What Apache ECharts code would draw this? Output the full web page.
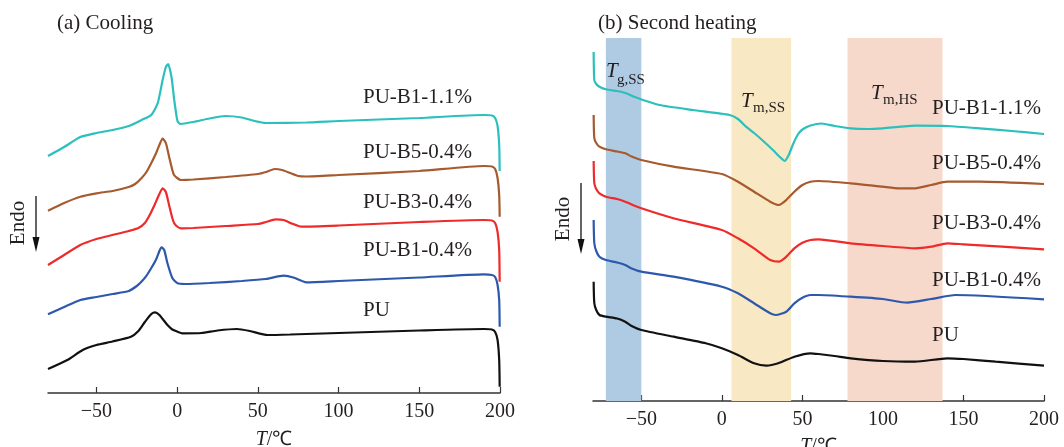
<!DOCTYPE html>
<html>
<head>
<meta charset="utf-8">
<script src="https://cdn.jsdelivr.net/npm/echarts@6/dist/echarts.min.js"></script>
<style>
  html, body { margin: 0; padding: 0; background: #fff; }
  #chart { width: 1064px; height: 447px; }
</style>
</head>
<body>
<div id="chart"></div>
<script>
// temperature ticks shown on both axes
var tempTicks = [-50, 0, 50, 100, 150, 200];
var sampleNames = ["PU-B1-1.1%", "PU-B5-0.4%", "PU-B3-0.4%", "PU-B1-0.4%", "PU"];

// (a) cooling curves: temperature / offset heat flow (arb. units)
var coolT_b11 = [-80,-70,-60,-50,-40,-30,-22,-16,-12,-9,-7,-5.6,-3.5,-1.8,0.2,2,10,20,30,40,48,55,80,100,150,190,195,197,198.5,199.5,199.8];
var coolV_b11 = [237,246,256,260,263,267,273,278,290,313,326,329,316,293,272,269,271,274.5,277,275.5,272,270,270.5,272,275,278,277.5,275,267,248,222];
var coolT_b5 = [-80,-70,-60,-50,-40,-30,-26,-22,-19,-16,-13,-11,-9,-7,-5,-3,-1.9,0,2.3,10,30,50,55,60.5,65,70,75,80,100,150,190,195,197,198.5,199.5,199.8];
var coolV_b5 = [182.3,190,196.3,199.7,202,206,209,215,221,230,240,248,254.5,250,236.3,223,218,215,213,213.5,216,219,221,224,223,220,217,216.5,218,222,227,226.5,224,215,198,176.3];
var coolT_b3 = [-80,-70,-60,-50,-40,-30,-24,-20,-17,-14,-11,-9,-7,-5,-3,-1.9,0,2.3,10,30,50,55,61,66,71,77,100,150,190,195,197,198.5,199.5,199.8];
var coolV_b3 = [128,138,148,154,158,162,165,170,178,188,199,204.7,201,188,175,170,166.5,164.7,165,167,169,171,173.7,173,169.5,166.3,167.5,171,173,172.5,170,161,143,111.3];
var coolT_b1 = [-80,-70,-60,-50,-40,-30,-25,-22,-19.4,-16,-13.2,-11,-9.7,-8,-6,-2.9,0.2,5,20,40,55,66,72,80,100,150,190,195,197,198.5,199.5,199.8];
var coolV_b1 = [78.7,86,93,96,99,102,107,111.5,116.3,125,133,142,145.7,143,129.7,114.7,109.7,109,110,112,114,117.3,115.5,110.7,112,115.5,118.7,118,116,108,93,66.3];
var coolT_pu = [-80,-68,-58.5,-50,-40,-28.6,-24,-20,-16,-13.6,-11,-8,-6,-3,0.2,3.2,15,25,37,45,56,70,100,150,190,195,197,198.5,199.5,199.8];
var coolV_pu = [24,33,43,48,51.5,56.3,62,71,79,80.7,78,72,68,63.5,61.3,59.7,60,62.5,64,62,58,58.5,60,62.5,64,63.5,61,53,33,6.3];

// (b) second heating curves
var heatT_b11 = [-79.6,-79.2,-78,-76,-72,-65,-59.5,-54,-49,-38.7,-18,4.8,10,15,20,25,31.7,36,39,41.5,44,47,50,55,62,70,80,90,100,120,140,160,180,200];
var heatV_b11 = [349,321,317,314.3,311.7,310,307.7,304,301,296,291,286,282,274.3,268,261,251,244,240,246,256,266,271.5,275.5,277.5,275,272.7,272,272.7,275.3,275,272.7,270,267];
var heatT_b5 = [-79.6,-79.2,-78,-76,-72,-65,-60,-56,-50,-30,0,10,20,30,35.5,40,45,50,55,60,80,100,110,120,130,140,160,200];
var heatV_b5 = [286,263,258,254.3,251.7,249.5,247.7,244.5,241,234.3,227,219.3,209.3,199.3,196,201,209.3,216,219.3,220,217.7,214.3,212.7,212.7,216,219.3,219.3,217];
var heatT_b3 = [-79.6,-79.2,-78,-76,-72,-65,-60,-56,-50,-30,0,10,20,30,35.5,40,45,50,55,60,80,100,120,130,140,150,200];
var heatV_b3 = [240,218,212,207.7,204.3,202,199.3,196.5,192.7,182.7,171,162.7,152.7,141,139.3,144.3,152.7,158.3,161,161.7,157.7,155,152.7,154.3,157.7,156.7,151.7];
var heatT_b1 = [-79.6,-79.2,-78,-76,-72,-65,-60,-56,-50,-30,0,10,20,30,33.5,40,45,50,55,60,80,100,115,130,145,200];
var heatV_b1 = [181,158,150,144.3,141,138.5,136,132.5,129.3,124.3,114.3,107.7,97.7,87.7,86,89.3,97.7,103.3,106,106,104.3,102,98.3,102,106,101.7];
var heatT_pu = [-79.6,-79.2,-78,-76,-72,-65,-60,-56,-50,-30,-10,0,10,20,27.6,35,45,55,60,70,80,100,120,140,150,170,200];
var heatV_pu = [119.3,98,91,86,84.3,82.5,79.3,75,71,64.3,57.7,52.7,46,37.7,35.3,37.7,44.3,47.7,47,45,42.7,40,39.3,42.7,42,39.3,35.3];

// transition regions shaded in (b)
var bandTg = [-72, -50];
var bandTmSS = [6, 43];
var bandTmHS = [78, 137];

var colors = ["#2cc0bd", "#a65a2e", "#ef2a2a", "#2d58ac", "#111111"];
var serif = "Liberation Serif";
var txt = "#231f20";

function pairs(t, v) {
  return t.map(function (x, i) { return [x, v[i]]; });
}

function makeX(gridIndex, nameGap) {
  return {
    type: "value", gridIndex: gridIndex, min: -80, max: 200,
    name: "{i|T}/℃", nameLocation: "middle", nameGap: nameGap,
    nameTextStyle: { fontFamily: serif, fontSize: 20, color: txt,
      rich: { i: { fontFamily: serif, fontSize: 20, fontStyle: "italic", color: txt } } },
    axisLine: { lineStyle: { color: "#333", width: 1.5 } },
    axisTick: { inside: true, length: 6, customValues: tempTicks, lineStyle: { color: "#333", width: 1.2 } },
    axisLabel: { customValues: tempTicks, margin: 9, fontFamily: serif, fontSize: 20, color: txt,
      formatter: function (v) { return String(v).replace("-", "\u2212"); } },
    splitLine: { show: false }
  };
}

function makeY(gridIndex, max) {
  return { type: "value", gridIndex: gridIndex, min: 0, max: max, show: false, splitLine: { show: false } };
}

var coolSets = [[coolT_b11, coolV_b11], [coolT_b5, coolV_b5], [coolT_b3, coolV_b3], [coolT_b1, coolV_b1], [coolT_pu, coolV_pu]];
var heatSets = [[heatT_b11, heatV_b11], [heatT_b5, heatV_b5], [heatT_b3, heatV_b3], [heatT_b1, heatV_b1], [heatT_pu, heatV_pu]];

var series = [];
coolSets.forEach(function (s, i) {
  series.push({
    name: sampleNames[i], type: "line", xAxisIndex: 0, yAxisIndex: 0,
    data: pairs(s[0], s[1]), showSymbol: false, smooth: 0.2, z: 3,
    lineStyle: { color: colors[i], width: 2.2 }
  });
});
heatSets.forEach(function (s, i) {
  var item = {
    name: sampleNames[i], type: "line", xAxisIndex: 1, yAxisIndex: 1,
    data: pairs(s[0], s[1]), showSymbol: false, smooth: 0.2, z: 3,
    lineStyle: { color: colors[i], width: 2.2 }
  };
  if (i === 0) {
    item.markArea = {
      silent: true,
      data: [
        [{ xAxis: bandTg[0], itemStyle: { color: "#aecbe3" } }, { xAxis: bandTg[1] }],
        [{ xAxis: bandTmSS[0], itemStyle: { color: "#f8e8c3" } }, { xAxis: bandTmSS[1] }],
        [{ xAxis: bandTmHS[0], itemStyle: { color: "#f7d9cc" } }, { xAxis: bandTmHS[1] }]
      ]
    };
  }
  series.push(item);
});

// text annotations
var graphic = [];
function label(x, y, text, size, italic) {
  graphic.push({ type: "text", x: x, y: y, z: 10, style: {
    text: text, fill: txt, verticalAlign: "middle",
    font: (italic ? "italic " : "") + size + "px " + serif } });
}
label(57, 23, "(a) Cooling", 21);
label(598, 23, "(b) Second heating", 21);
var coolLabelY = [97, 152, 202, 250, 310];
var heatLabelY = [108, 163, 223, 280, 335];
sampleNames.forEach(function (n, i) {
  label(363, coolLabelY[i], n, 21);
  label(932, heatLabelY[i], n, 21);
});
label(606, 71, "T", 21, true); label(617, 80, "g,SS", 15);
label(741, 101, "T", 21, true); label(753, 108, "m,SS", 15);
label(871, 93, "T", 21, true); label(883, 100, "m,HS", 15);

function endo(tx, ty, ax, ay0, ay1) {
  graphic.push({ type: "text", x: tx, y: ty, rotation: Math.PI / 2, z: 10,
    style: { text: "Endo", fill: txt, align: "center", verticalAlign: "middle", font: "21px " + serif } });
  graphic.push({ type: "line", z: 10, shape: { x1: ax, y1: ay0, x2: ax, y2: ay1 - 8 },
    style: { stroke: "#111", lineWidth: 1.3 } });
  graphic.push({ type: "polygon", z: 10, shape: { points: [[ax - 3.5, ay1 - 15], [ax + 3.5, ay1 - 15], [ax, ay1]] },
    style: { fill: "#111" } });
}
endo(18, 223, 36, 196, 252);
endo(563, 219, 581, 183, 254);

var chart = echarts.init(document.getElementById("chart"));
chart.setOption({
  animation: false,
  backgroundColor: "#fff",
  grid: [
    { left: 48, right: 564, top: 40, bottom: 54, outerBoundsMode: "none" },
    { left: 593, right: 20, top: 38, bottom: 46, outerBoundsMode: "none" }
  ],
  xAxis: [makeX(0, 37), makeX(1, 36)],
  yAxis: [makeY(0, 353), makeY(1, 363)],
  series: series,
  graphic: graphic
});
</script>
</body>
</html>
